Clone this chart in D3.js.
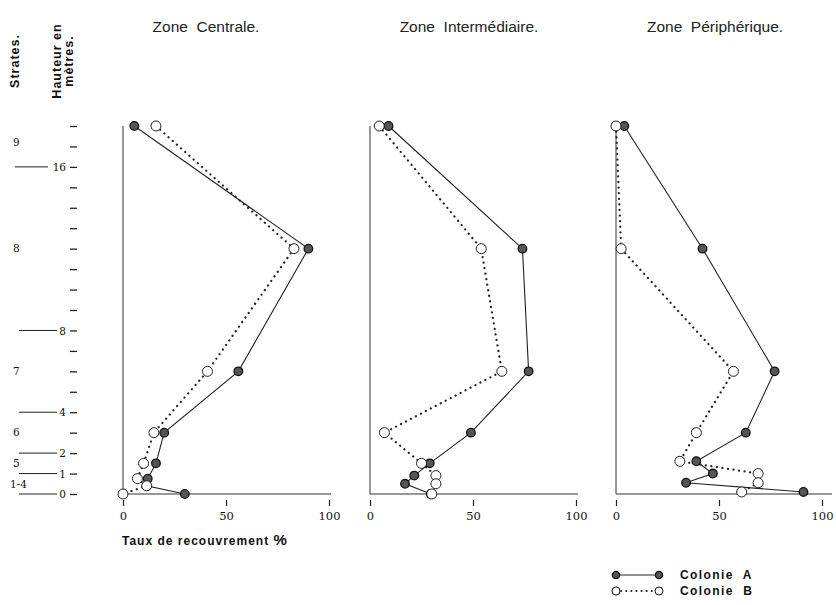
<!DOCTYPE html>
<html>
<head>
<meta charset="utf-8">
<script src="https://cdn.jsdelivr.net/npm/d3@7"></script>
<style>
  body { margin: 0; background: #fff; }
  svg { display: block; }
</style>
</head>
<body>
<div id="chart"></div>
<script>
// zones (panels)
const zones = ["Zone  Centrale.", "Zone  Intermédiaire.", "Zone  Périphérique."];

// sampling heights (m) per zone, top to bottom
const heights = [
  [18, 12, 6, 3, 1.5, 0.75, 0.4, 0],
  [18, 12, 6, 3, 1.5, 0.9, 0.5, 0],
  [18, 12, 6, 3, 1.6, 1.0, 0.55, 0.1]
];

// taux de recouvrement % (same order as heights)
const colonieA = [
  [5.5, 90, 56, 20, 16, 12, 11.5, 30],
  [9, 74, 77, 49, 29, 21.5, 17, 29.5],
  [4, 42, 77, 63, 39, 47, 34, 91]
];
const colonieB = [
  [16, 83, 41, 15, 10, 7, 11.5, 0],
  [4.5, 54, 64, 7, 25, 32, 32, 30],
  [0, 2.5, 57, 39, 31, 69, 69, 61]
];

// left axis
const heightTicks = d3.range(0, 19);
const heightLabels = [0, 1, 2, 4, 8, 16];
const strataNames = ["1-4", "5", "6", "7", "8", "9"];
const strataMid = [0.45, 1.5, 3, 6, 12, 17.2];
const xTicks = [0, 50, 100];

const width = 836;
const height = 605;

const svg = d3.select("#chart")
  .append("svg")
  .attr("width", width)
  .attr("height", height);

const y = d3.scaleLinear()
  .domain([0, 18])
  .range([494, 126]);

// panel placement
const panelLeft = [123, 370, 616];
const panelWidth = 206;
const titleShift = [-20, -4, -4];

// ---- left axis: heights and strata
svg.append("g")
  .attr("transform", "translate(77,0)")
  .call(d3.axisLeft(y)
    .tickValues(heightTicks)
    .tickSize(7)
    .tickPadding(4)
    .tickFormat(d => heightLabels.includes(d) ? d : ""))
  .call(g => g.select(".domain").remove())
  .call(g => g.selectAll(".tick line").attr("stroke", "#222").attr("stroke-width", 1.3))
  .call(g => g.selectAll(".tick text")
    .attr("font-family", "DejaVu Serif")
    .attr("font-size", "10.5px")
    .attr("fill", "#111")
    .attr("dy", "0.35em"));

// strata boundaries
svg.append("g")
  .selectAll("line")
  .data(heightLabels)
  .join("line")
  .attr("x1", d => d === 16 ? 15 : 19)
  .attr("x2", d => d >= 10 ? 48 : 57)
  .attr("y1", d => y(d))
  .attr("y2", d => y(d))
  .attr("stroke", "#222")
  .attr("stroke-width", 1);

svg.append("g")
  .selectAll("text")
  .data(strataNames)
  .join("text")
  .attr("x", (d, i) => d === "1-4" ? 10 : 13)
  .attr("y", (d, i) => y(strataMid[i]))
  .attr("dy", "0.35em")
  .attr("font-family", "DejaVu Serif")
  .attr("font-size", "10.5px")
  .attr("fill", "#111")
  .text(d => d);

// rotated headers
const headers = [
  { t: "Strates.", x: 19 },
  { t: "Hauteur en", x: 61 },
  { t: "mètres.", x: 73 }
];
svg.append("g")
  .selectAll("text")
  .data(headers)
  .join("text")
  .attr("transform", d => `translate(${d.x},61) rotate(-90)`)
  .attr("text-anchor", "middle")
  .attr("font-family", "Liberation Sans")
  .attr("font-weight", "bold")
  .attr("font-size", "12.5px")
  .attr("letter-spacing", "1px")
  .attr("fill", "#111")
  .text(d => d.t);

// ---- panels
const line = d3.line();

zones.forEach((zone, i) => {
  const x = d3.scaleLinear()
    .domain([0, 100])
    .range([panelLeft[i], panelLeft[i] + panelWidth]);

  const g = svg.append("g");

  // frame: vertical axis and base line
  g.append("line")
    .attr("x1", x(0)).attr("x2", x(0))
    .attr("y1", y(18)).attr("y2", y(0))
    .attr("stroke", "#333").attr("stroke-width", 1);
  g.append("line")
    .attr("x1", x(0)).attr("x2", x(100) + (i === 2 ? 10 : 2))
    .attr("y1", y(0)).attr("y2", y(0))
    .attr("stroke", "#333").attr("stroke-width", 1.2);

  g.append("g")
    .attr("transform", `translate(0,${y(0) + 6})`)
    .call(d3.axisBottom(x).tickValues(xTicks).tickSize(6).tickPadding(6))
    .call(g => g.select(".domain").remove())
    .call(g => g.selectAll(".tick line").attr("stroke", "#222").attr("stroke-width", 1.2))
    .call(g => g.selectAll(".tick text")
      .attr("font-family", "DejaVu Serif")
      .attr("font-size", "11.5px")
      .attr("fill", "#111"));

  // title
  g.append("text")
    .attr("x", x(50) + titleShift[i])
    .attr("y", 32)
    .attr("text-anchor", "middle")
    .attr("font-family", "Liberation Sans")
    .attr("font-size", "15.5px")
    .attr("fill", "#222")
    .style("white-space", "pre")
    .text(zone);

  const ptsA = colonieA[i].map((v, k) => [x(v), y(heights[i][k])]);
  const ptsB = colonieB[i].map((v, k) => [x(v), y(heights[i][k])]);

  g.append("path")
    .attr("d", line(ptsA))
    .attr("fill", "none")
    .attr("stroke", "#222")
    .attr("stroke-width", 1.1);

  g.append("path")
    .attr("d", line(ptsB))
    .attr("fill", "none")
    .attr("stroke", "#222")
    .attr("stroke-width", 2.2)
    .attr("stroke-linecap", "round")
    .attr("stroke-dasharray", "0.1,5.5");

  g.append("g")
    .selectAll("circle")
    .data(ptsA)
    .join("circle")
    .attr("cx", d => d[0])
    .attr("cy", d => d[1])
    .attr("r", 4.3)
    .attr("fill", "#555")
    .attr("stroke", "#111")
    .attr("stroke-width", 1.3);

  g.append("g")
    .selectAll("circle")
    .data(ptsB)
    .join("circle")
    .attr("cx", d => d[0])
    .attr("cy", d => d[1])
    .attr("r", 5)
    .attr("fill", "#fff")
    .attr("stroke", "#222")
    .attr("stroke-width", 1);
});

// x title
svg.append("text")
  .attr("x", 122)
  .attr("y", 545)
  .attr("font-family", "Liberation Sans")
  .attr("font-weight", "bold")
  .attr("font-size", "12px")
  .attr("letter-spacing", "1px")
  .attr("fill", "#111")
  .text("Taux de recouvrement ")
  .append("tspan")
  .attr("font-size", "15px")
  .text("%");

// ---- legend
const legendRows = ["Colonie  A", "Colonie  B"];
const leg = svg.append("g").attr("transform", "translate(616,575)");
legendRows.forEach((name, i) => {
  const ly = i * 16;
  leg.append("line")
    .attr("x1", 0).attr("x2", 43)
    .attr("y1", ly).attr("y2", ly)
    .attr("stroke", "#222")
    .attr("stroke-width", i === 0 ? 1.1 : 2)
    .attr("stroke-linecap", i === 0 ? "butt" : "round")
    .attr("stroke-dasharray", i === 0 ? null : "0.1,5");
  [0, 43].forEach(cx => {
    leg.append("circle")
      .attr("cx", cx).attr("cy", ly)
      .attr("r", i === 0 ? 3.6 : 4)
      .attr("fill", i === 0 ? "#555" : "#fff")
      .attr("stroke", "#111")
      .attr("stroke-width", i === 0 ? 1.3 : 1);
  });
  leg.append("text")
    .attr("x", 64)
    .attr("y", ly)
    .attr("dy", "0.35em")
    .attr("font-family", "Liberation Sans")
    .attr("font-weight", "bold")
    .attr("font-size", "12px")
    .attr("letter-spacing", "1.4px")
    .attr("fill", "#111")
    .style("white-space", "pre")
    .text(name);
});
</script>
</body>
</html>
